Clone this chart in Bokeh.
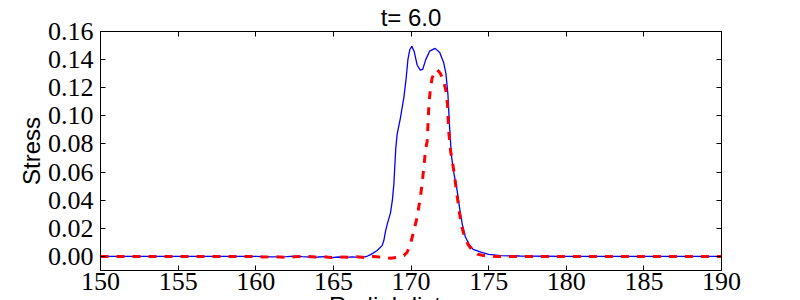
from bokeh.plotting import figure
from bokeh.models import (Range1d, FixedTicker, PrintfTickFormatter, LinearAxis,
                          CustomJSTickFormatter, Title)
from bokeh.embed import file_html
from bokeh.resources import INLINE

# ---- data ----
blue_x = [150.0, 152.0, 155.0, 158.0, 160.0, 161.0, 162.0, 162.5, 163.0, 163.5, 164.0, 164.5,
          164.9, 165.3, 165.8, 166.2, 166.7, 167.1, 167.4, 167.8, 168.14, 168.25, 168.36, 168.47,
          168.68, 168.8, 168.9, 168.96, 169.02, 169.11, 169.32, 169.54, 169.7, 169.8, 169.92,
          170.05, 170.2, 170.4, 170.6, 170.75, 170.95, 171.2, 171.55, 171.85, 172.1, 172.25,
          172.38, 172.48, 172.6, 172.75, 172.97, 173.15, 173.3, 173.5, 173.72, 174.0, 174.5,
          175.0, 175.8, 177.0, 180.0, 185.0, 190.0]
blue_y = [0.0, 0.0, 0.0, 0.0, 0.0, -0.0003, -0.0001, 0.0002, -0.0002, -0.0005, -0.0004, -0.0002,
          -0.0009, -0.0004, -0.0006, -0.0003, -0.0007, -0.0002, 0.0013, 0.004, 0.0077, 0.0113,
          0.018, 0.023, 0.031, 0.040, 0.052, 0.065, 0.077, 0.087, 0.0986, 0.113, 0.128, 0.140,
          0.147, 0.1494, 0.146, 0.136, 0.1325, 0.133, 0.140, 0.146, 0.148, 0.145, 0.138, 0.130,
          0.115, 0.093, 0.072, 0.060, 0.047, 0.033, 0.023, 0.014, 0.009, 0.005, 0.003,
          0.0015, 0.0006, 0.0003, 0.0, 0.0, 0.0]

red_x = [150.0, 155.0, 160.0, 160.5, 161.2, 161.8, 162.5, 163.2, 163.8, 164.3, 164.8, 165.3,
         166.0, 166.5, 167.0, 167.5, 167.8, 168.25, 168.7, 169.11, 169.54, 169.75, 169.97, 170.2,
         170.4, 170.6, 170.71, 170.85, 170.93, 171.04, 171.1, 171.15, 171.25, 171.36, 171.55,
         171.68, 171.9, 172.1, 172.25, 172.35, 172.43, 172.55, 172.76, 172.95, 173.1, 173.25,
         173.4, 173.65, 173.95, 174.3, 174.7, 175.5, 180.0, 185.0, 190.0]
red_y = [0.0, 0.0, 0.0, -0.0004, -0.0002, -0.0006, -0.0003, 0.0001, -0.0004, 0.0, -0.0008, -0.0003,
         -0.0005, -0.0002, -0.0007, 0.0, -0.0003, -0.0006, -0.0013, -0.0006, 0.0006, 0.003, 0.009,
         0.019, 0.028, 0.042, 0.051, 0.066, 0.075, 0.082, 0.095, 0.108, 0.119, 0.127, 0.131,
         0.133, 0.130, 0.1246, 0.118, 0.108, 0.089, 0.075, 0.061, 0.045, 0.0325, 0.022,
         0.016, 0.009, 0.0042, 0.0015, 0.0006, 0.0, 0.0, 0.0, 0.0]

x_ticks = [150, 155, 160, 165, 170, 175, 180, 185, 190]
y_ticks = [0.00, 0.02, 0.04, 0.06, 0.08, 0.10, 0.12, 0.14, 0.16]
title_text = "t= 6.0"
x_label = "Radial distance"
y_label = "Stress"

TICK_FONT = "Liberation Serif"
LABEL_FONT = "Liberation Sans"

p = figure(width=800, height=340, output_backend="svg", toolbar_location=None,
           x_range=Range1d(150, 190), y_range=Range1d(-0.01, 0.16),
           min_border_left=100, min_border_right=79, min_border_top=30, min_border_bottom=70)
p.title = Title(text=title_text, align="center", text_font=LABEL_FONT,
                text_font_size="24px", text_font_style="normal", text_color="black",
                standoff=2, offset=0)
p.grid.visible = False
p.background_fill_color = "white"
p.border_fill_color = "white"
p.outline_line_color = "black"
p.outline_line_width = 1
p.outline_line_alpha = 1

blank = CustomJSTickFormatter(code="return ''")

def style_axis(ax, ticks, show_labels):
    ax.ticker = FixedTicker(ticks=ticks)
    ax.major_tick_in = 5
    ax.major_tick_out = 0
    ax.minor_tick_in = 0
    ax.minor_tick_out = 0
    ax.major_tick_line_color = "black"
    ax.axis_line_color = None
    if show_labels:
        ax.major_label_text_font = TICK_FONT
        ax.major_label_text_font_size = "26px"
        ax.major_label_text_color = "black"
    else:
        ax.formatter = blank
        ax.major_label_standoff = 0

xa = p.xaxis[0]
style_axis(xa, x_ticks, True)
xa.major_label_standoff = 2
xa.axis_label = x_label
xa.axis_label_text_font = LABEL_FONT
xa.axis_label_text_font_size = "24px"
xa.axis_label_text_font_style = "normal"
xa.axis_label_text_color = "black"
xa.axis_label_standoff = -1

ya = p.yaxis[0]
style_axis(ya, y_ticks, True)
ya.formatter = PrintfTickFormatter(format="%.2f")
ya.major_label_standoff = 7
ya.axis_label = y_label
ya.axis_label_text_font = LABEL_FONT
ya.axis_label_text_font_size = "24px"
ya.axis_label_text_font_style = "normal"
ya.axis_label_text_color = "black"
ya.axis_label_standoff = 0

top_ax = LinearAxis()
style_axis(top_ax, x_ticks, False)
p.add_layout(top_ax, "above")
right_ax = LinearAxis()
style_axis(right_ax, y_ticks, False)
p.add_layout(right_ax, "right")

p.line(blue_x, blue_y, line_color="blue", line_width=1.3)
p.line(red_x, red_y, line_color="red", line_width=3, line_dash="8 8")

open("out.html", "w").write(file_html(p, INLINE))
